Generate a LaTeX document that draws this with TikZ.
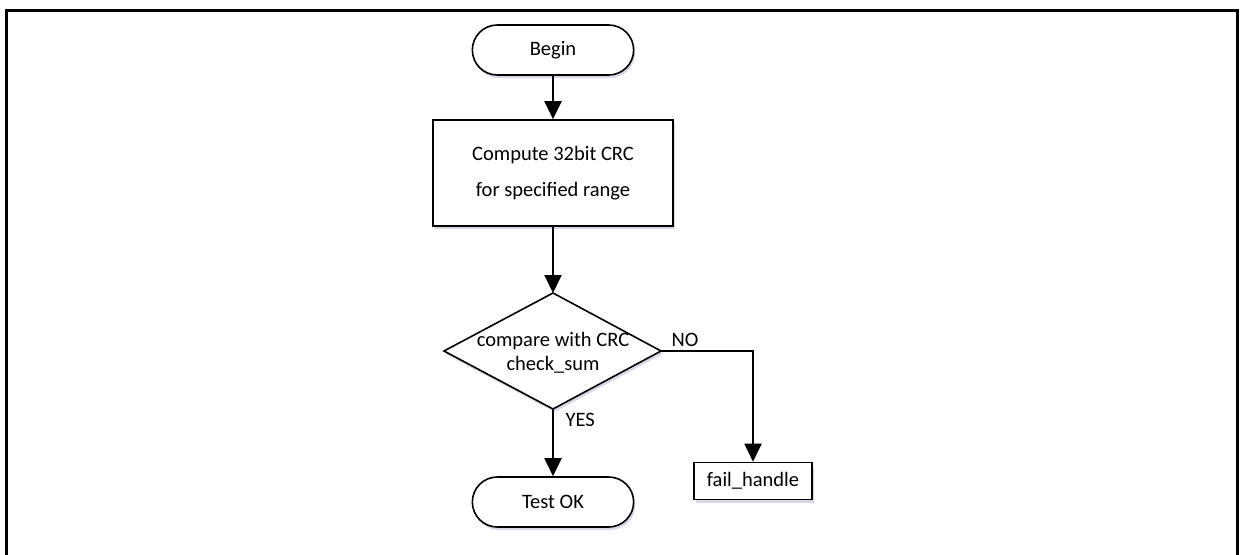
\documentclass[tikz,border=0pt]{standalone}
\usepackage{fontspec}
\setmainfont{Carlito}
\usetikzlibrary{arrows.meta,shapes.geometric,shapes.misc,shadows}
\begin{document}
\begin{tikzpicture}[x=1pt,y=-1pt,
  every node/.style={font=\fontsize{20.5}{24}\selectfont},
  shad/.style={drop shadow={shadow xshift=1.5pt,shadow yshift=-3pt,fill=blue!25!gray,opacity=0.25}},
  term/.style={draw,line width=1.6pt,rounded rectangle,minimum width=168pt,minimum height=50pt,fill=white,shad},
  proc/.style={draw,line width=1.6pt,rectangle,align=center,fill=white,shad},
  conn/.style={line width=2pt,-{Triangle[width=17pt,length=18pt]}},
  lbl/.style={font=\fontsize{20.5}{24}\selectfont}]
\useasboundingbox (0,0) rectangle (1244,554);
\draw[line width=3pt] (6,560) -- (6,10) -- (1237,10) -- (1237,560);
\node[term] (begin) at (553,50) {Begin};
\node[proc,minimum width=240pt,minimum height=106pt] (crc) at (553,173) {Compute 32bit CRC\\[12pt]for specified range};
\path[draw,line width=1.6pt,fill=white,shad] (444,351) -- (553,293) -- (661,351) -- (553,409) -- cycle;
\coordinate (ctop) at (553,293);
\coordinate (cright) at (661,351);
\coordinate (cbot) at (553,409);
\node[align=center] (cmptxt) at (553,353) {compare with CRC\\check\_sum};
\node[term] (ok) at (553,502) {Test OK};
\node[proc,minimum width=118pt,minimum height=37pt] (fail) at (753,481) {fail\_handle};
\draw[conn] (begin.south) -- (crc.north);
\draw[conn] (crc.south) -- (ctop);
\draw[conn] (cbot) -- (ok.north);
\draw[conn] (cright) -- (753,351) -- (fail.north);
\node[lbl,anchor=west] (no) at (668,340) {NO};
\node[lbl,anchor=west] (yes) at (562,420) {YES};
\end{tikzpicture}
\end{document}
